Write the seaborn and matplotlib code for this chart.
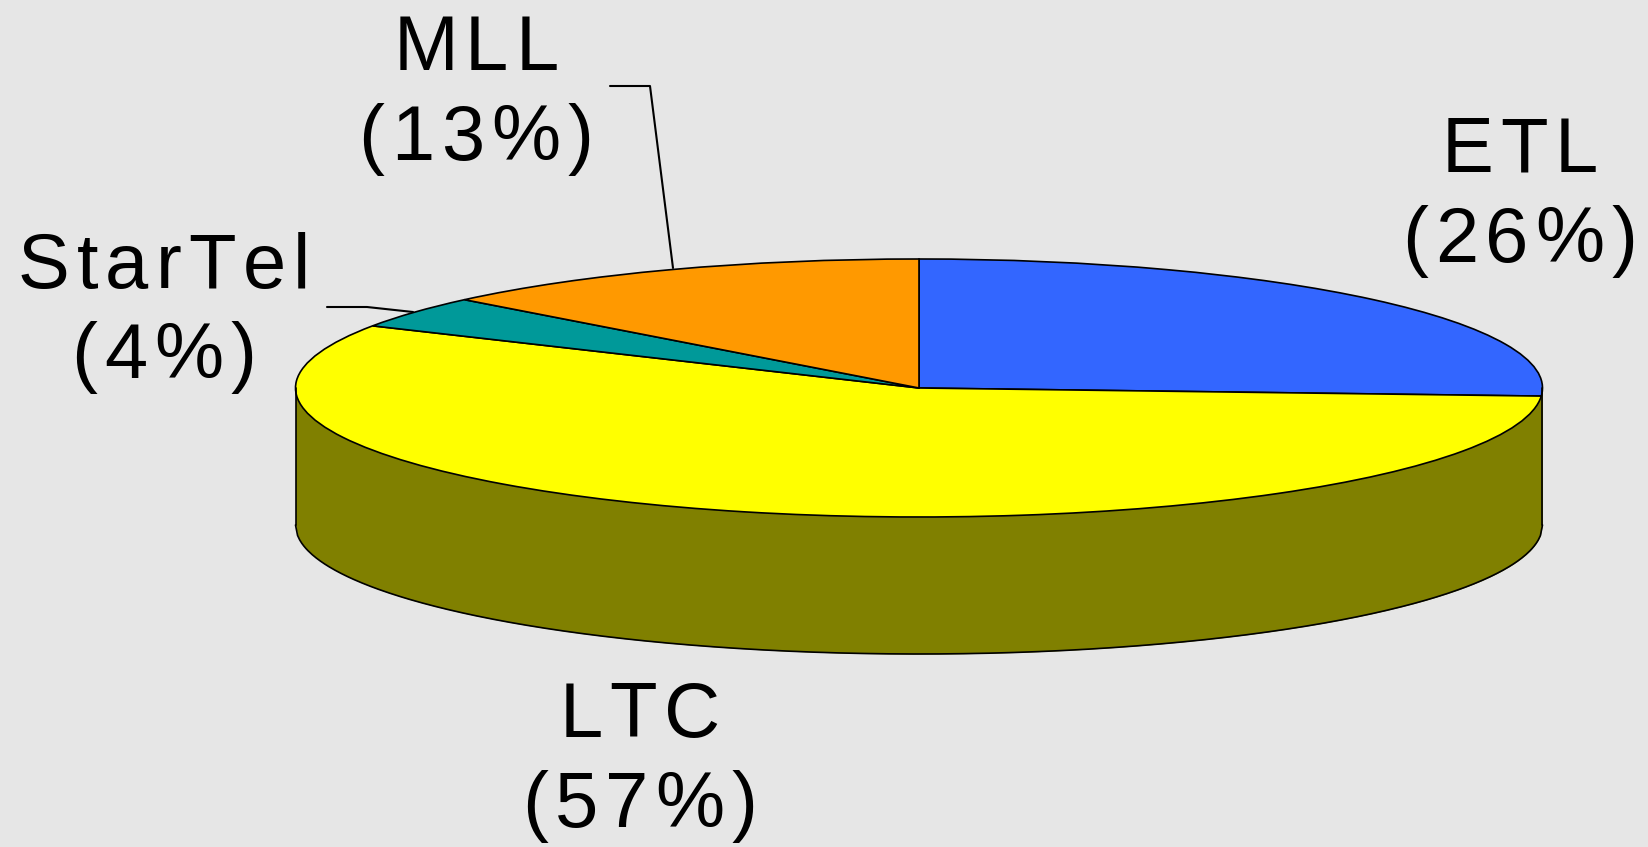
import numpy as np
import seaborn as sns
import matplotlib.pyplot as plt

# slices, clockwise from 12 o'clock
labels = ["ETL", "LTC", "StarTel", "MLL"]
shares = [26, 57, 4, 13]
colors = ["#3366ff", "#ffff00", "#009999", "#ff9900"]
wall_color = "#808000"

sns.set_style("white")
plt.rcParams["font.family"] = ["Liberation Sans", "DejaVu Sans"]

W, H = 1649, 847
bg = "#e6e6e6"
cx, cy = 919, 388      # centre of top face (px)
rx, ry = 623.5, 129    # radii of top face (px)
depth = 137 / ry       # wall height in pie units

fig = plt.figure(figsize=(W / 100, H / 100), dpi=100, facecolor=bg)
ax = fig.add_axes([0, 0, 1, 1])
ax.set_facecolor(bg)

# side wall of the cylinder (front half)
xs = np.linspace(-1, 1, 600)
bottom = -depth - np.sqrt(1 - xs ** 2)
ax.fill_between(xs, bottom, 0, color=wall_color, lw=0)
ax.plot(xs, bottom, color="black", lw=1.2)
ax.plot([-1, -1], [0, -depth], color="black", lw=1.2)
ax.plot([1, 1], [0, -depth], color="black", lw=1.2)

# top face
ax.pie(shares, colors=colors, startangle=90, counterclock=False, center=(0, 0), radius=1,
       wedgeprops=dict(edgecolor="black", linewidth=1.2))

ax.set_aspect("auto")
ax.set_xlim(-cx / rx, (W - cx) / rx)
ax.set_ylim(-(H - cy) / ry, cy / ry)
ax.axis("off")

# labels + leader lines in pixel space
ov = fig.add_axes([0, 0, 1, 1])
ov.set_xlim(0, W)
ov.set_ylim(H, 0)
ov.axis("off")
renderer = fig.canvas.get_renderer()


def spaced_text(x, y, s, size=56, track=7):
    # centred text with extra letter spacing
    parts = [ov.text(0, y, ch, ha="left", va="baseline", fontsize=size, color="black") for ch in s]
    widths = [p.get_window_extent(renderer).width for p in parts]
    total = sum(widths) + track * (len(s) - 1)
    pos = x - total / 2
    for p, w in zip(parts, widths):
        p.set_x(pos)
        pos += w + track


label_pos = {"ETL": (1520, 172), "LTC": (640, 737), "StarTel": (164, 288), "MLL": (476, 70)}
step = 90
for name, val in zip(labels, shares):
    x, y = label_pos[name]
    spaced_text(x, y, name)
    spaced_text(x, y + step, f"({val}%)")

ov.plot([610, 650, 673], [86, 86, 268], color="black", lw=1.5)
ov.plot([327, 367, 413], [307, 307, 312], color="black", lw=1.5)

fig.savefig("out.png", dpi=100, facecolor=bg)
